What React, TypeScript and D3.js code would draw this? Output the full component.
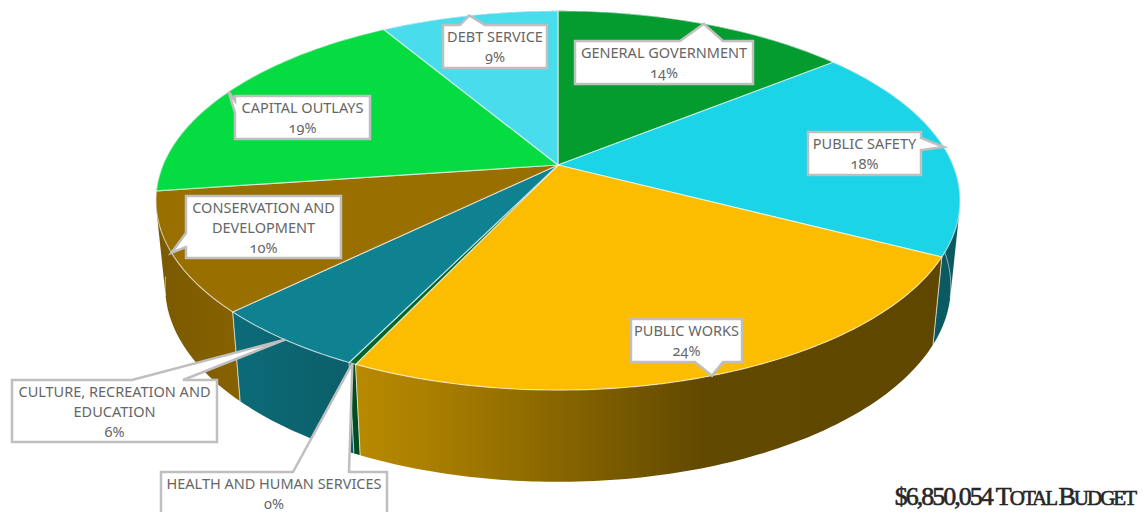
import React, { useEffect, useRef } from 'react';
import * as d3 from 'd3';

const WIDTH = 1143;
const HEIGHT = 512;

const categories = [
  'GENERAL GOVERNMENT',
  'PUBLIC SAFETY',
  'PUBLIC WORKS',
  'HEALTH AND HUMAN SERVICES',
  'CULTURE, RECREATION AND EDUCATION',
  'CONSERVATION AND DEVELOPMENT',
  'CAPITAL OUTLAYS',
  'DEBT SERVICE',
];
const shares = [14.2, 18.4, 24.4, 0.25, 5.45, 10.1, 18.65, 8.55];
const percentLabels = ['14%', '18%', '24%', '0%', '6%', '10%', '19%', '9%'];
const colors = ['#049b2f', '#1bd4e8', '#fcbc00', '#00662a', '#0f8292', '#996f00', '#04dc41', '#49dced'];

// label lines wrap like the original callouts
const labelLines = [
  ['GENERAL GOVERNMENT'],
  ['PUBLIC SAFETY'],
  ['PUBLIC WORKS'],
  ['HEALTH AND HUMAN SERVICES'],
  ['CULTURE, RECREATION AND', 'EDUCATION'],
  ['CONSERVATION AND', 'DEVELOPMENT'],
  ['CAPITAL OUTLAYS'],
  ['DEBT SERVICE'],
];

// callout boxes: x, y, w, h, side the pointer leaves from, pointer base along that side
type Box = { x: number; y: number; w: number; h: number; side: 'top' | 'bottom' | 'left' | 'right'; base: [number, number] };
const boxes: Box[] = [
  { x: 575, y: 41, w: 178, h: 43, side: 'top', base: [680, 723] },
  { x: 808, y: 132, w: 113, h: 43, side: 'right', base: [138, 150] },
  { x: 631, y: 319, w: 111, h: 43, side: 'bottom', base: [695, 723] },
  { x: 161, y: 472, w: 226, h: 60, side: 'top', base: [293, 349] },
  { x: 12, y: 380, w: 205, h: 62, side: 'top', base: [132, 183] },
  { x: 186, y: 196, w: 155, h: 62, side: 'left', base: [233, 247] },
  { x: 235, y: 96, w: 135, h: 43, side: 'left', base: [101, 113] },
  { x: 443, y: 25, w: 104, h: 43, side: 'top', base: [460, 485] },
];

// wall shading as a fraction of the slice colour, from left to right
const wallStops: [number, number][][] = [
  [[0, 0.5], [1, 0.5]],
  [[0, 0.42], [1, 0.42]],
  [[0, 0.73], [0.12, 0.68], [0.41, 0.5], [0.59, 0.39], [1, 0.38]],
  [[0, 0.75], [1, 0.75]],
  [[0, 0.82], [1, 0.72]],
  [[0, 0.8], [1, 0.88]],
  [[0, 0.6], [1, 0.6]],
  [[0, 0.6], [1, 0.6]],
];

// perspective disc: centre of the pie sits above the centre of its ellipse
const CX = 558;
const CY = 165;
const RX = 395;
const RY = 183;
const TILT = 0.187;
const DEPTH = 85;

type Pt = [number, number];

const topRim = (a: number): Pt => {
  const u = Math.sin(a);
  const v = -Math.cos(a);
  const w = 1 - TILT * v;
  return [CX + (RX * u) / w, CY + (RY * v) / w];
};

const bottomRim = (a: number): Pt => {
  const [x, y] = topRim(a);
  return [CX + (x - CX) * 0.977, CY + DEPTH + (y - CY) * 1.03];
};

const App: React.FC = () => {
  const svgRef = useRef<SVGSVGElement | null>(null);

  useEffect(() => {
    if (!svgRef.current) return;
    const svg = d3.select(svgRef.current);
    svg.selectAll('*').remove();

    const slices = d3.pie<number>().sort(null)(shares);
    const line = d3.line();
    const rimAngles = (s: d3.PieArcDatum<number>) => {
      const n = Math.max(2, Math.ceil((s.endAngle - s.startAngle) * 60));
      return d3.range(n + 1).map((i) => s.startAngle + ((s.endAngle - s.startAngle) * i) / n);
    };

    const defs = svg.append('defs');
    const walls = svg.append('g');

    // walls first, back to front, the faces cover whatever is behind them
    const order = d3.range(slices.length).sort(
      (p, q) =>
        -Math.cos((slices[p].startAngle + slices[p].endAngle) / 2) -
        -Math.cos((slices[q].startAngle + slices[q].endAngle) / 2),
    );
    order.forEach((i) => {
      const angles = rimAngles(slices[i]);
      const top = angles.map(topRim);
      const bottom = angles.map(bottomRim);
      const xs = d3.extent([...top, ...bottom], (p) => p[0]) as [number, number];
      const gradient = defs
        .append('linearGradient')
        .attr('id', `wall-${i}`)
        .attr('gradientUnits', 'userSpaceOnUse')
        .attr('x1', xs[0])
        .attr('x2', xs[1])
        .attr('y1', 0)
        .attr('y2', 0);
      wallStops[i].forEach(([offset, shade]) => {
        const c = d3.rgb(colors[i]);
        gradient
          .append('stop')
          .attr('offset', offset)
          .attr('stop-color', d3.rgb(c.r * shade, c.g * shade, c.b * shade).formatHex());
      });

      // one quad per rim step, all wound the same way so the silhouette fills
      let fill = '';
      const frontEdges: Pt[][] = [];
      d3.range(angles.length - 1).forEach((k) => {
        const quad: Pt[] = [top[k], top[k + 1], bottom[k + 1], bottom[k]];
        const front = d3.polygonArea(quad) < 0;
        fill += line(front ? quad : [...quad].reverse()) + 'Z';
        if (front) frontEdges.push([bottom[k], bottom[k + 1]]);
      });
      walls.append('path').attr('d', fill).attr('fill', `url(#wall-${i})`);

      const last = angles.length - 1;
      const edgeLines = [...frontEdges];
      if (Math.cos(angles[0]) < -0.3) edgeLines.push([top[0], bottom[0]]);
      if (Math.cos(angles[last]) < -0.3) edgeLines.push([top[last], bottom[last]]);
      walls
        .append('path')
        .attr('d', edgeLines.map((e) => line(e)).join(''))
        .attr('fill', 'none')
        .attr('stroke', '#fff')
        .attr('stroke-opacity', 0.55)
        .attr('stroke-width', 1);
    });

    // top faces
    svg
      .append('g')
      .selectAll('path')
      .data(slices)
      .join('path')
      .attr('d', (s) => line([[CX, CY], ...rimAngles(s).map(topRim)]) + 'Z')
      .attr('fill', (_, i) => colors[i])
      .attr('stroke', '#fff')
      .attr('stroke-opacity', 0.6)
      .attr('stroke-width', 1.2)
      .attr('stroke-linejoin', 'round');

    // callouts
    const labels = svg.append('g');
    slices.forEach((s, i) => {
      const { x, y, w, h, side, base } = boxes[i];
      const tip = topRim((s.startAngle + s.endAngle) / 2);
      const r = x + w;
      const b = y + h;
      let pts: Pt[] = [];
      if (side === 'top') pts = [[x, y], [base[0], y], tip, [base[1], y], [r, y], [r, b], [x, b]];
      if (side === 'right') pts = [[x, y], [r, y], [r, base[0]], tip, [r, base[1]], [r, b], [x, b]];
      if (side === 'bottom') pts = [[x, y], [r, y], [r, b], [base[1], b], tip, [base[0], b], [x, b]];
      if (side === 'left') pts = [[x, y], [r, y], [r, b], [x, b], [x, base[1]], tip, [x, base[0]]];
      labels
        .append('path')
        .attr('d', line(pts) + 'Z')
        .attr('fill', '#fff')
        .attr('stroke', '#bfbfbf')
        .attr('stroke-width', 2.5)
        .attr('stroke-linejoin', 'miter');
      const text = labels
        .append('text')
        .attr('text-anchor', 'middle')
        .attr('fill', '#666')
        .style('font-family', '"Noto Sans", sans-serif')
        .style('font-size', '14.5px')
        .style('font-feature-settings', '"onum"');
      [...labelLines[i], percentLabels[i]].forEach((t, k) => {
        text
          .append('tspan')
          .attr('x', x + w / 2)
          .attr('y', y + 17 + k * 20)
          .text(t);
      });
    });

    const total = svg
      .append('text')
      .attr('x', 1135)
      .attr('y', 505)
      .attr('text-anchor', 'end')
      .attr('fill', '#262626')
      .attr('stroke', '#262626')
      .attr('stroke-width', 0.6)
      .style('font-family', '"Liberation Serif", serif')
      .style('letter-spacing', '-2px');
    total.append('tspan').style('font-size', '26px').text('$6,850,054 T');
    total.append('tspan').style('font-size', '21px').text('OTAL ');
    total.append('tspan').style('font-size', '26px').text('B');
    total.append('tspan').style('font-size', '21px').text('UDGET');

    return () => {
      svg.selectAll('*').remove();
    };
  }, []);

  return (
    <svg
      ref={svgRef}
      width={WIDTH}
      height={HEIGHT}
      style={{ position: 'absolute', left: 0, top: 0, display: 'block', background: '#fff' }}
    />
  );
};

export default App;
